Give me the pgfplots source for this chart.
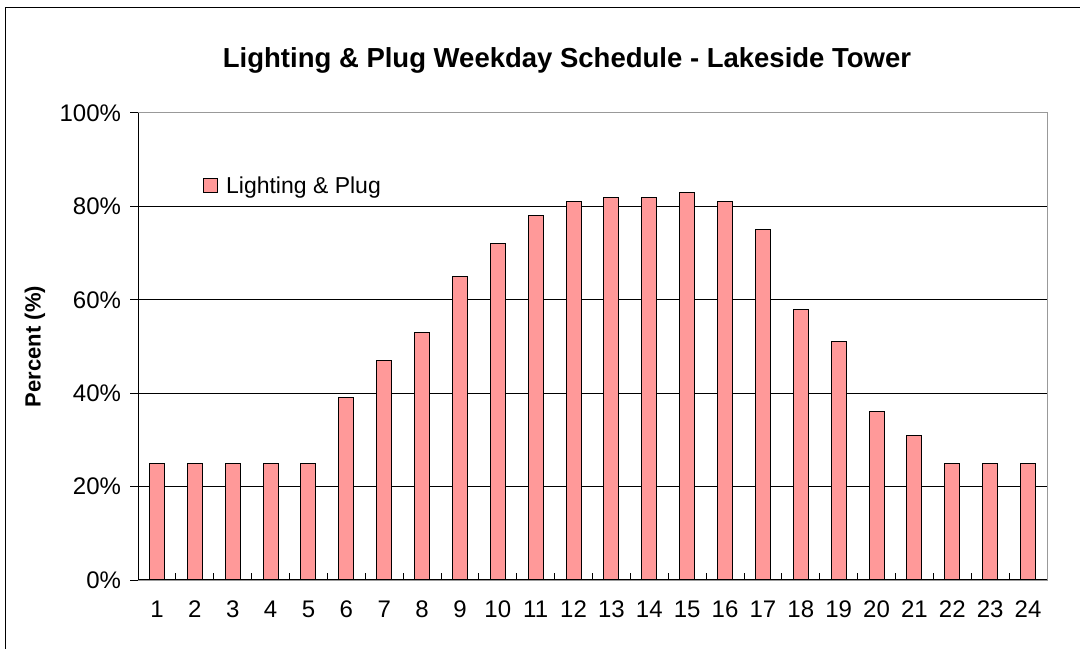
\documentclass[border=0pt]{standalone}
\usepackage{pgfplots}
\pgfplotsset{compat=1.18}
\usepackage{fontspec}
\setmainfont{Liberation Sans}
\definecolor{barpink}{RGB}{255,153,153}
\begin{document}
\begin{tikzpicture}
\useasboundingbox (0,0) rectangle (1080bp,649bp);
\draw[line width=1.6bp] (5.5bp,-20bp) -- (5.5bp,641.5bp) -- (1100bp,641.5bp);
\begin{axis}[
  at={(138bp,69bp)}, anchor=south west,
  width=909bp, height=467bp, scale only axis,
  xmin=0.5, xmax=24.5, ymin=0, ymax=100,
  /pgf/number format/assume math mode=true,
  xtick={1,...,24},
  minor xtick={0.5,1.5,...,24.5},
  major x tick style={draw=none},
  xtick pos=bottom, ytick pos=left,
  minor tick length=7bp,
  major tick length=15bp,
  xtick align=inside,
  ytick align=center,
  ytick={0,20,...,100},
  yticklabels={0\%,20\%,40\%,60\%,80\%,100\%},
  tick style={black, line width=1bp},
  extra y ticks={20,40,60,80},
  extra y tick labels={},
  extra y tick style={grid=major, major grid style={black, line width=1bp}},
  axis line style={draw=gray!80, line width=1bp},
  ticklabel style={font=\fontsize{24bp}{28bp}\selectfont},
  xticklabel style={yshift=-17bp},
  yticklabel style={xshift=-6bp},
  title={Lighting \& Plug Weekday Schedule - Lakeside Tower},
  title style={font=\fontsize{27.5bp}{32bp}\selectfont\bfseries, at={(rel axis cs:0.5,1)}, anchor=center, xshift=-25.5bp, yshift=47bp},
  ylabel={Percent (\%)},
  every axis y label/.style={at={(rel axis cs:0,0.5)}, xshift=-103bp, rotate=90, anchor=center, font=\fontsize{22bp}{26bp}\selectfont\bfseries},
  legend style={at={(rel axis cs:0.1705,0.8437)}, anchor=center, draw=none, fill=white,
    inner xsep=22bp, inner ysep=8bp, font=\fontsize{23bp}{27bp}\selectfont,
    legend cell align=left},
  legend image code/.code={\draw[#1, draw=black, line width=1bp] (0bp,-7bp) rectangle (14bp,7bp); \path (20bp,0bp);},
]
\addplot[ybar, bar width=15bp, fill=barpink, draw=black, line width=1bp] coordinates {
(1,25) (2,25) (3,25) (4,25) (5,25) (6,39) (7,47) (8,53) (9,65) (10,72) (11,78) (12,81)
(13,82) (14,82) (15,83) (16,81) (17,75) (18,58) (19,51) (20,36) (21,31) (22,25) (23,25) (24,25)
};
\addlegendentry{Lighting \& Plug}
\draw[black, line width=1.2bp] (rel axis cs:0,1) -- (rel axis cs:0,0) -- (rel axis cs:1,0);
\end{axis}
\end{tikzpicture}
\end{document}
